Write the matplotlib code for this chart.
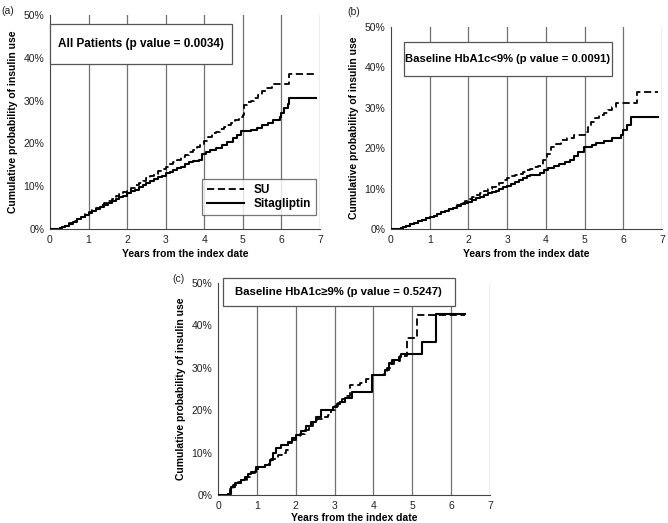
import matplotlib
matplotlib.use("Agg")
import matplotlib.pyplot as plt
from matplotlib.patches import Rectangle
from matplotlib.lines import Line2D

plt.rcParams['font.family'] = ['Liberation Sans', 'DejaVu Sans']

# ---- data (years, cumulative probability of insulin use, %) ----
a_su_t = [0, 0.25, 0.3, 0.4, 0.5, 0.6, 0.7, 0.8, 0.9, 1.0, 1.1, 1.2, 1.3, 1.4, 1.5, 1.6, 1.7, 1.8, 1.9,
          2.0, 2.1, 2.2, 2.3, 2.4, 2.5, 2.6, 2.7, 2.8, 2.9, 3.0, 3.1, 3.2, 3.3, 3.4, 3.5, 3.6, 3.7, 3.8,
          3.9, 4.0, 4.1, 4.2, 4.3, 4.4, 4.5, 4.6, 4.7, 4.8, 4.9, 5.0, 5.03, 5.1, 5.2, 5.3, 5.4, 5.5,
          5.6, 5.75, 6.2, 6.9]
a_su_v = [0, 0.3, 0.5, 0.8, 1.3, 1.9, 2.4, 2.9, 3.5, 4.0, 4.5, 5.0, 5.5, 6.0, 6.6, 7.1, 7.6, 8.1, 8.6,
          9.1, 9.6, 10.2, 10.7, 11.3, 11.8, 12.4, 12.9, 13.5, 14.0, 14.6, 15.1, 15.7, 16.2, 16.8, 17.3, 17.9, 18.5, 19.1,
          19.6, 20.5, 21.5, 22.5, 22.7, 23.3, 23.8, 24.3, 24.8, 25.5, 26.1, 26.6, 29.0, 29.7, 30.0, 30.5, 31.2, 32.3,
          33.0, 33.8, 36.3, 36.3]
a_si_t = [0, 0.25, 0.3, 0.4, 0.5, 0.6, 0.7, 0.8, 0.9, 1.0, 1.1, 1.2, 1.3, 1.4, 1.5, 1.6, 1.7, 1.8, 1.9,
          2.0, 2.1, 2.2, 2.3, 2.4, 2.5, 2.6, 2.7, 2.8, 2.9, 3.0, 3.1, 3.2, 3.3, 3.4, 3.5, 3.6, 3.7, 3.85,
          3.95, 4.05, 4.15, 4.3, 4.45, 4.6, 4.75, 4.85, 4.95, 5.2, 5.36, 5.49, 5.66, 5.78, 5.95, 6.0,
          6.07, 6.16, 6.2, 6.9]
a_si_v = [0, 0.3, 0.5, 0.8, 1.2, 1.7, 2.3, 2.8, 3.3, 3.8, 4.2, 4.7, 5.1, 5.6, 6.0, 6.5, 6.9, 7.4, 7.8,
          8.3, 8.8, 9.2, 9.7, 10.2, 10.7, 11.1, 11.6, 12.1, 12.5, 13.0, 13.4, 13.8, 14.2, 14.6, 15.1, 15.7, 16.0, 16.2,
          17.5, 18.0, 18.5, 19.0, 19.7, 20.3, 21.2, 22.0, 22.8, 23.2, 23.7, 24.2, 24.7, 25.4, 26.2, 27.0,
          28.2, 29.3, 30.5, 30.5]

b_su_t = [0, 0.26, 0.3, 0.4, 0.5, 0.6, 0.7, 0.8, 0.9, 1.0, 1.1, 1.2, 1.3, 1.4, 1.5, 1.6, 1.7, 1.8, 1.9,
          2.0, 2.1, 2.2, 2.3, 2.4, 2.5, 2.6, 2.7, 2.8, 2.9, 3.0, 3.1, 3.2, 3.3, 3.4, 3.5, 3.6, 3.7, 3.8,
          3.93, 4.03, 4.13, 4.25, 4.39, 4.55, 4.73, 5.0, 5.1, 5.17, 5.28, 5.38, 5.5, 5.6, 5.7, 5.81, 6.35, 6.9]
b_su_v = [0, 0.2, 0.4, 0.8, 1.2, 1.6, 2.0, 2.3, 2.6, 2.9, 3.3, 3.7, 4.2, 4.6, 5.0, 5.5, 6.0, 6.5, 6.9,
          7.4, 7.9, 8.4, 8.9, 9.5, 10.0, 10.5, 11.0, 11.5, 12.1, 12.6, 13.0, 13.3, 13.7, 14.1, 14.5, 14.9, 15.3, 15.7,
          17.1, 18.6, 20.2, 21.0, 22.0, 22.6, 23.3, 24.1, 25.3, 26.6, 27.4, 28.2, 28.8, 29.5, 30.2, 31.1, 33.8, 33.8]
b_si_t = [0, 0.26, 0.3, 0.4, 0.5, 0.6, 0.7, 0.8, 0.9, 1.0, 1.1, 1.2, 1.3, 1.4, 1.5, 1.6, 1.7, 1.8, 1.9,
          2.0, 2.1, 2.2, 2.3, 2.4, 2.5, 2.6, 2.7, 2.8, 2.9, 3.0, 3.1, 3.2, 3.3, 3.4, 3.5, 3.6, 3.86,
          3.95, 4.05, 4.2, 4.35, 4.5, 4.62, 4.72, 4.83, 4.98, 5.18, 5.3, 5.5, 5.72, 5.93, 6.0, 6.1, 6.2, 6.9]
b_si_v = [0, 0.2, 0.4, 0.8, 1.2, 1.6, 1.9, 2.3, 2.6, 2.9, 3.3, 3.7, 4.1, 4.5, 4.9, 5.3, 5.7, 6.1, 6.4,
          6.8, 7.2, 7.6, 8.0, 8.4, 8.8, 9.1, 9.5, 9.9, 10.3, 10.7, 11.1, 11.6, 12.1, 12.6, 13.0, 13.4, 13.8,
          14.6, 15.1, 15.6, 16.0, 16.5, 17.1, 18.0, 19.1, 20.4, 20.8, 21.2, 21.7, 22.5, 23.3, 24.5, 25.8, 27.7, 27.7]

c_su_t = [0, 0.26, 0.32, 0.38, 0.5, 0.6, 0.75, 0.86, 0.95, 1.03, 1.2, 1.3, 1.37, 1.54, 1.65, 1.76, 1.8,
          1.9, 2.01, 2.12, 2.23, 2.35, 2.44, 2.55, 2.7, 2.83, 2.9, 3.0, 3.1, 3.2, 3.3, 3.4, 3.66,
          3.8, 3.96, 4.26, 4.35, 4.45, 4.52, 4.69, 4.86, 5.11, 6.36]
c_su_v = [0, 0.3, 1.5, 2.4, 3.0, 3.5, 4.3, 5.1, 5.8, 6.5, 7.1, 7.8, 8.6, 9.4, 9.9, 10.5, 12.2,
          13.0, 13.8, 14.5, 15.3, 16.3, 17.3, 18.0, 18.5, 18.9, 20.0, 21.0, 21.8, 22.6, 23.3, 25.9, 26.3,
          27.3, 28.3, 28.6, 29.9, 30.8, 31.5, 32.7, 37.0, 42.5, 42.5]
c_si_t = [0, 0.26, 0.34, 0.43, 0.6, 0.69, 0.78, 0.86, 0.99, 1.2, 1.33, 1.41, 1.5, 1.63, 1.8, 1.9, 2.01,
          2.14, 2.27, 2.4, 2.53, 2.65, 2.96, 3.05, 3.14, 3.27, 3.44, 3.96, 4.31, 4.4, 4.48, 4.65,
          4.7, 5.25, 5.6, 6.36]
c_si_v = [0, 0.3, 2.0, 2.8, 3.5, 4.3, 4.9, 5.5, 6.5, 7.1, 8.3, 9.8, 11.0, 11.8, 12.6, 13.4, 14.2,
          15.0, 16.2, 17.3, 18.5, 20.1, 20.8, 21.4, 22.0, 22.8, 24.4, 28.3, 29.5, 31.1, 31.9, 32.5,
          33.2, 36.2, 42.6, 42.6]

x_ticks = [0, 1, 2, 3, 4, 5, 6, 7]
y_ticks = [0, 10, 20, 30, 40, 50]
y_ticklabels = ['0%', '10%', '20%', '30%', '40%', '50%']
titles = ['All Patients (p value = 0.0034)',
          'Baseline HbA1c<9% (p value = 0.0091)',
          'Baseline HbA1c\u22659% (p value = 0.5247)']
panel_letters = ['(a)', '(b)', '(c)']
series_names = ['SU', 'Sitagliptin']

W, H = 668, 523
fig = plt.figure(figsize=(W / 100, H / 100), dpi=100)

def make_ax(l, r, t, b):
    return fig.add_axes([l / W, 1 - b / H, (r - l) / W, (b - t) / H])

axes = [make_ax(50, 320, 15, 229), make_ax(391, 662, 27, 229), make_ax(218, 490, 283, 495)]
data = [(a_su_t, a_su_v, a_si_t, a_si_v), (b_su_t, b_su_v, b_si_t, b_si_v), (c_su_t, c_su_v, c_si_t, c_si_v)]
boxes = [(0.0, 0.771, 0.674, 0.187), (0.048, 0.757, 0.767, 0.169), (0.018, 0.89, 0.853, 0.134)]
title_sizes = [8.5, 8.1, 8.2]
letter_pos = [(1, 11), (347, 12), (172, 279)]
xlabel_pads = [3, 3, 1.5]

for ax, (st, sv, it, iv), box, title, lp, ts in zip(axes, data, boxes, titles, xlabel_pads, title_sizes):
    ax.set_xlim(0, 7)
    ax.set_ylim(0, 50)
    for xv in x_ticks[1:]:
        ax.axvline(xv, color='#707070', lw=0.9, zorder=1)
    ax.plot(st, sv, drawstyle='steps-post', color='black', lw=1.3, ls=(0, (4, 2)), zorder=3)
    ax.plot(it, iv, drawstyle='steps-post', color='black', lw=1.5, zorder=3)
    ax.set_xticks(x_ticks)
    ax.set_yticks(y_ticks)
    ax.set_yticklabels(y_ticklabels)
    ax.tick_params(length=0, labelsize=7.5, colors='#222222', pad=4)
    for s in ['top', 'right']:
        ax.spines[s].set_visible(False)
    ax.spines['left'].set_color('#444444')
    ax.spines['bottom'].set_color('#444444')
    ax.set_xlabel('Years from the index date', fontsize=7.5, fontweight='bold', labelpad=lp)
    ax.set_ylabel('Cumulative probability of insulin use', fontsize=7.5, fontweight='bold', labelpad=4)
    bx, by, bw, bh = box
    ax.add_patch(Rectangle((bx, by), bw, bh, transform=ax.transAxes, facecolor='white',
                           edgecolor='#555555', lw=0.9, zorder=5, clip_on=False))
    ax.text(bx + bw / 2, by + bh / 2, title, transform=ax.transAxes, ha='center', va='center',
            fontsize=ts, fontweight='bold', zorder=6)

for lt, (px, py) in zip(panel_letters, letter_pos):
    fig.text(px / W, 1 - py / H, lt, fontsize=7.5, ha='left', va='center', color='#222222')

# legend in panel (a)
handles = [Line2D([], [], color='black', lw=1.3, ls=(0, (4, 2))),
           Line2D([], [], color='black', lw=1.5)]
leg = axes[0].legend(handles, series_names, loc='lower right', bbox_to_anchor=(0.985, 0.065),
                     frameon=True, fancybox=False, edgecolor='#555555',
                     prop={'weight': 'bold', 'size': 8.5}, handlelength=3.2, borderpad=0.4,
                     labelspacing=0.2, borderaxespad=0)
leg.get_frame().set_linewidth(0.9)
leg.set_zorder(6)

fig.savefig('out.png', dpi=100)
